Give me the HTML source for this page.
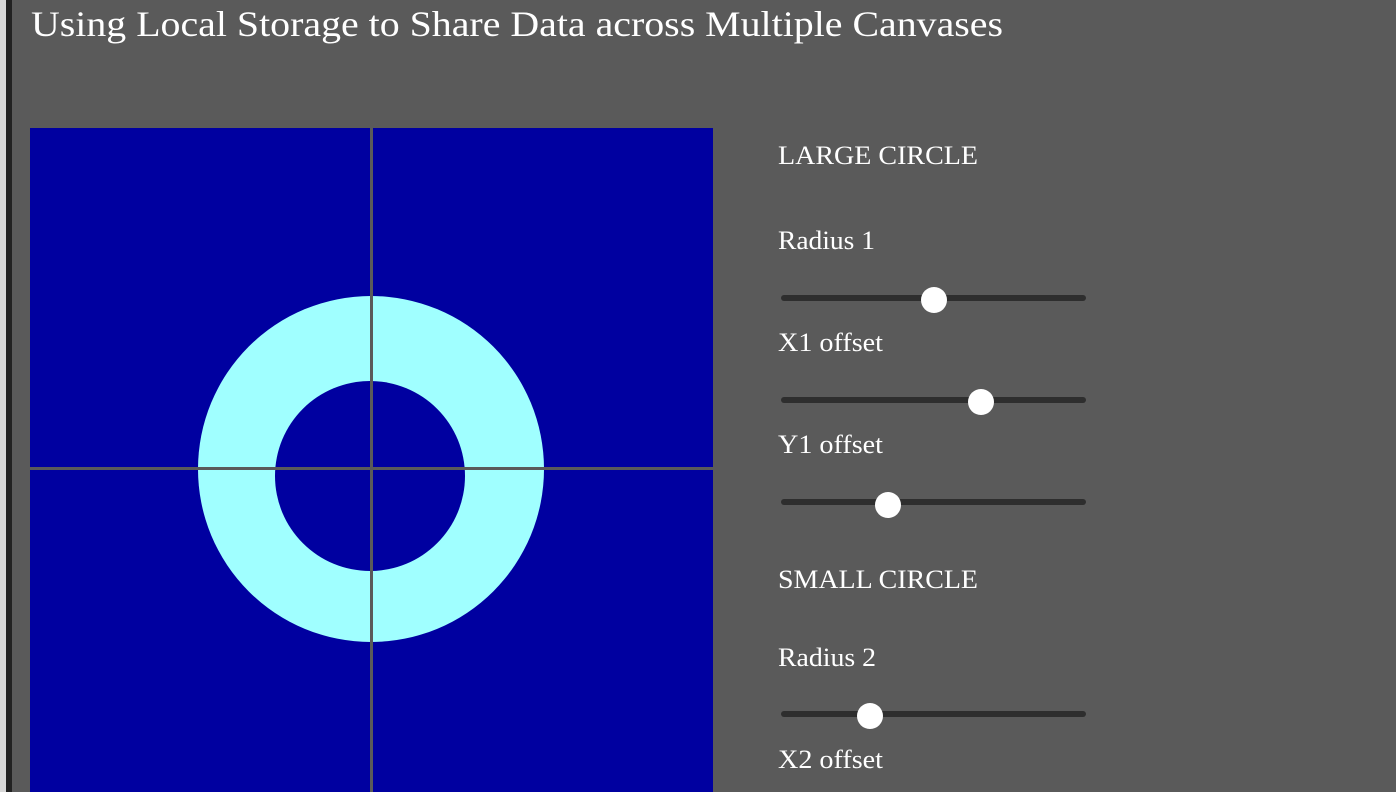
<!DOCTYPE html>
<html><head><style>html,body{margin:0;padding:0;background:#5a5a5a;overflow:hidden}</style></head>
<body>
<svg width="1396" height="792" xmlns="http://www.w3.org/2000/svg" style="display:block">
<rect width="1396" height="792" fill="#5a5a5a"/>
<rect x="0" y="0" width="6" height="792" fill="#d8d8d8"/>
<rect x="6" y="0" width="6" height="792" fill="#222"/>
<g font-family="Liberation Serif, serif" fill="#fff">
<text x="31" y="36" font-size="36" textLength="972" lengthAdjust="spacingAndGlyphs">Using Local Storage to Share Data across Multiple Canvases</text>
<text x="778" y="164" font-size="26" textLength="200" lengthAdjust="spacingAndGlyphs">LARGE CIRCLE</text>
<text x="778" y="249" font-size="26" textLength="97" lengthAdjust="spacingAndGlyphs">Radius 1</text>
<text x="778" y="351" font-size="26" textLength="105" lengthAdjust="spacingAndGlyphs">X1 offset</text>
<text x="778" y="453" font-size="26" textLength="105" lengthAdjust="spacingAndGlyphs">Y1 offset</text>
<text x="778" y="588" font-size="26" textLength="200" lengthAdjust="spacingAndGlyphs">SMALL CIRCLE</text>
<text x="778" y="666" font-size="26" textLength="98" lengthAdjust="spacingAndGlyphs">Radius 2</text>
<text x="778" y="768" font-size="26" textLength="105" lengthAdjust="spacingAndGlyphs">X2 offset</text>
</g>
<rect x="30" y="128" width="683" height="664" fill="#0000a0"/>
<circle cx="371" cy="469" r="173" fill="#a0ffff"/>
<circle cx="370" cy="476" r="95" fill="#0000a0"/>
<rect x="370" y="128" width="3" height="664" fill="#5a5a5a"/>
<rect x="30" y="467" width="683" height="3" fill="#5a5a5a"/>
<g fill="#2e2e2e">
<rect x="781" y="295" width="305" height="6" rx="3"/>
<rect x="781" y="397" width="305" height="6" rx="3"/>
<rect x="781" y="499" width="305" height="6" rx="3"/>
<rect x="781" y="711" width="305" height="6" rx="3"/>
</g>
<g fill="#fff">
<circle cx="934" cy="300" r="13"/>
<circle cx="981" cy="402" r="13"/>
<circle cx="888" cy="505" r="13"/>
<circle cx="870" cy="716" r="13"/>
</g>
</svg>
</body></html>
